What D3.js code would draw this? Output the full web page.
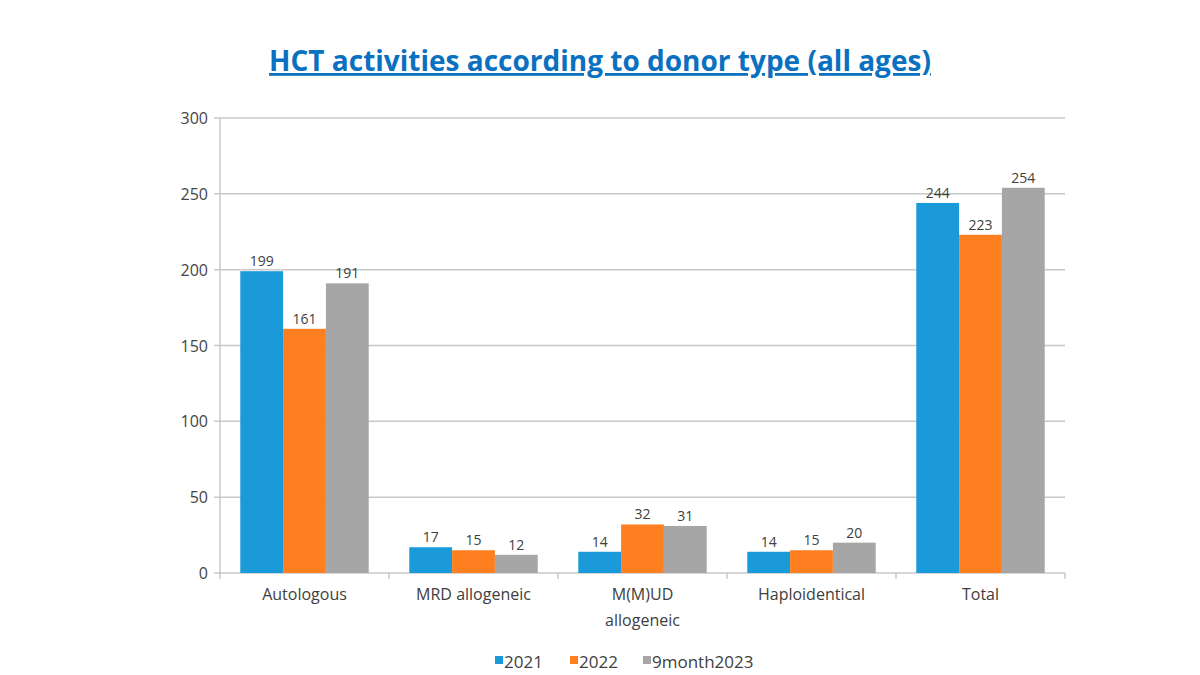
<!DOCTYPE html><html><head><meta charset="utf-8"><script src="https://cdn.jsdelivr.net/npm/d3@7/dist/d3.min.js"></script>
<style>body{margin:0;background:#fff}</style></head><body><svg id="c" width="1200" height="675"></svg><script>
const categories=[["Autologous"],["MRD allogeneic"],["M(M)UD","allogeneic"],["Haploidentical"],["Total"]];
const seriesNames=["2021","2022","9month2023"];
const v2021=[199,17,14,14,244];
const v2022=[161,15,32,15,223];
const v2023=[191,12,31,20,254];
const yTicks=[0,50,100,150,200,250,300];
const colors=["#1a9ad9","#fd7f20","#a6a6a6"];
const series=[v2021,v2022,v2023];
const svg=d3.select("#c"),font="'Open Sans',sans-serif";
const L=220,R=1065,T=118,B=573;
const x=d3.scaleBand().domain(d3.range(categories.length)).range([L,R]).paddingInner(0.24).paddingOuter(0.12);
const x1=d3.scaleBand().domain(d3.range(3)).range([0,x.bandwidth()]);
const y=d3.scaleLinear().domain([0,300]).range([B,T]);
svg.append("text").attr("x",600).attr("y",71).attr("text-anchor","middle").attr("font-family",font).attr("font-weight","bold").attr("font-size",28).attr("fill","#0a70c0").attr("text-decoration","underline").text("HCT activities according to donor type (all ages)");
svg.append("g").selectAll("line").data(yTicks).join("line").attr("x1",L-6).attr("x2",R).attr("y1",d=>y(d)).attr("y2",d=>y(d)).attr("stroke","#c8c8c8").attr("stroke-width",1.5);
svg.append("line").attr("x1",L).attr("x2",L).attr("y1",T).attr("y2",B).attr("stroke","#c8c8c8").attr("stroke-width",1.5);
svg.append("g").selectAll("text").data(yTicks).join("text").attr("x",L-12).attr("y",d=>y(d)+6).attr("text-anchor","end").attr("font-family",font).attr("font-size",16).attr("fill","#444").text(d=>d);
// category ticks
const edges=d3.range(categories.length+1).map(i=>L+i*(R-L)/categories.length);
svg.append("g").selectAll("line").data(edges).join("line").attr("x1",d=>d).attr("x2",d=>d).attr("y1",B).attr("y2",B+6).attr("stroke","#c8c8c8").attr("stroke-width",1.5);
series.forEach((s,si)=>{
 const g=svg.append("g");
 g.selectAll("rect").data(s).join("rect").attr("x",(d,i)=>x(i)+x1(si)).attr("width",x1.bandwidth()).attr("y",d=>y(d)).attr("height",d=>B-y(d)).attr("fill",colors[si]);
 g.selectAll("text").data(s).join("text").attr("x",(d,i)=>x(i)+x1(si)+x1.bandwidth()/2).attr("y",d=>y(d)-5).attr("text-anchor","middle").attr("font-family",font).attr("font-size",14).attr("fill","#404040").text(d=>d);
});
const cg=svg.append("g").selectAll("text").data(categories).join("text").attr("x",(d,i)=>x(i)+x.bandwidth()/2).attr("y",600).attr("text-anchor","middle").attr("font-family",font).attr("font-size",16).attr("fill","#404040");
cg.selectAll("tspan").data(d=>d).join("tspan").attr("x",function(){return this.parentNode.getAttribute("x")}).attr("dy",(d,i)=>i?26:0).text(d=>d);
const lx=[495,570,643];
seriesNames.forEach((n,i)=>{
 svg.append("rect").attr("x",lx[i]).attr("y",656).attr("width",8).attr("height",8).attr("fill",colors[i]);
 svg.append("text").attr("x",lx[i]+9).attr("y",668).attr("font-family",font).attr("font-size",17).attr("fill","#404040").text(n);
});
</script></body></html>
